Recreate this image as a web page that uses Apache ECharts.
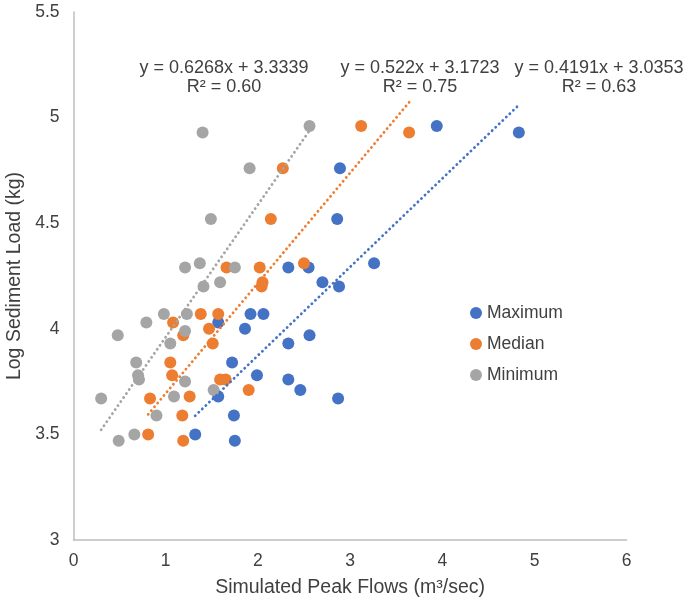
<!DOCTYPE html>
<html>
<head>
<meta charset="utf-8">
<script src="https://cdn.jsdelivr.net/npm/echarts@6/dist/echarts.min.js"></script>
<style>html,body{margin:0;padding:0;background:#fff;}#c{width:686px;height:600px;}</style>
</head>
<body>
<div id="c"></div>
<script>
// Series data (x = Simulated Peak Flows, y = Log Sediment Load)
const seriesNames = ['Maximum', 'Median', 'Minimum'];
const seriesColors = ['#4472C4', '#ED7D31', '#A5A5A5'];

const maxX = [4.83, 3.94, 2.89, 2.86, 3.26, 2.55, 2.33, 2.70, 2.88, 1.92, 2.06, 1.57, 1.86, 2.56, 2.33, 1.72, 1.99, 2.33, 2.46, 1.57, 2.87, 1.74, 1.32, 1.75];
const maxY = [4.93, 4.96, 4.76, 4.52, 4.31, 4.29, 4.29, 4.22, 4.20, 4.07, 4.07, 4.03, 4.00, 3.97, 3.93, 3.84, 3.78, 3.76, 3.71, 3.68, 3.67, 3.59, 3.50, 3.47];

const medX = [3.12, 3.64, 2.27, 2.14, 2.50, 2.02, 2.05, 2.04, 1.66, 1.38, 1.57, 1.08, 1.47, 1.19, 1.51, 1.05, 1.07, 1.59, 1.65, 1.90, 0.83, 1.26, 1.18, 0.81, 1.19];
const medY = [4.96, 4.93, 4.76, 4.52, 4.31, 4.29, 4.22, 4.20, 4.29, 4.07, 4.07, 4.03, 4.00, 3.97, 3.93, 3.84, 3.78, 3.76, 3.76, 3.71, 3.67, 3.68, 3.59, 3.50, 3.47];

const minX = [2.56, 1.40, 1.91, 1.49, 1.37, 1.21, 1.75, 1.59, 1.41, 0.98, 1.23, 0.79, 1.21, 0.48, 1.05, 0.68, 0.70, 0.71, 1.21, 1.52, 1.09, 0.30, 0.90, 0.66, 0.49];
const minY = [4.96, 4.93, 4.76, 4.52, 4.31, 4.29, 4.29, 4.22, 4.20, 4.07, 4.07, 4.03, 3.99, 3.97, 3.93, 3.84, 3.78, 3.76, 3.75, 3.71, 3.68, 3.67, 3.59, 3.50, 3.47];

// Linear trendlines (from the chart's equations)
const trendSlopes = [0.4191, 0.522, 0.6268];
const trendIntercepts = [3.0353, 3.1723, 3.3339];
const trendLabels = ['y = 0.4191x + 3.0353', 'y = 0.522x + 3.1723', 'y = 0.6268x + 3.3339'];
const r2Labels = ['R\u00B2 = 0.63', 'R\u00B2 = 0.75', 'R\u00B2 = 0.60'];

// Axis ticks
const xTicks = [0, 1, 2, 3, 4, 5, 6];
const yTicks = [3, 3.5, 4, 4.5, 5, 5.5];

const xs = [maxX, medX, minX];
const ys = [maxY, medY, minY];

const FONT = '"Liberation Sans", Arial, sans-serif';
const TXT = '#404040';

const scatterSeries = seriesNames.map((name, i) => ({
  name: name,
  type: 'scatter',
  symbol: 'circle',
  symbolSize: 12,
  itemStyle: { color: seriesColors[i], opacity: 1 },
  z: 2 + i,
  data: xs[i].map((x, k) => [x, ys[i][k]])
}));

const trendSeries = seriesNames.map((name, i) => {
  const lo = Math.min.apply(null, xs[i]);
  const hi = Math.max.apply(null, xs[i]);
  return {
    name: name + ' trend',
    type: 'line',
    symbol: 'none',
    silent: true,
    z: 10,
    lineStyle: { color: seriesColors[i], width: 2.8, type: [0.1, 4.8], cap: 'round' },
    data: [[lo, trendIntercepts[i] + trendSlopes[i] * lo], [hi, trendIntercepts[i] + trendSlopes[i] * hi]]
  };
});

const eqCenters = [599, 420, 224];
const graphics = [];
for (let i = 0; i < 3; i++) {
  graphics.push({ type: 'text', x: eqCenters[i], y: 68,
    style: { text: trendLabels[i], x: 0, y: 0, textAlign: 'center', textVerticalAlign: 'middle', font: '18px ' + FONT, fill: TXT } });
  graphics.push({ type: 'text', x: eqCenters[i], y: 87,
    style: { text: r2Labels[i], x: 0, y: 0, textAlign: 'center', textVerticalAlign: 'middle', font: '18px ' + FONT, fill: TXT } });
}

const chart = echarts.init(document.getElementById('c'), null, { renderer: 'canvas' });
chart.setOption({
  animation: false,
  backgroundColor: '#ffffff',
  grid: { left: 73.5, right: 59.3, top: 12, bottom: 60, outerBoundsMode: 'none' },
  xAxis: {
    type: 'value', min: xTicks[0], max: xTicks[xTicks.length - 1], interval: 1,
    name: 'Simulated Peak Flows (m\u00B3/sec)', nameLocation: 'middle', nameGap: 38,
    nameTextStyle: { fontFamily: FONT, fontSize: 19.5, color: TXT },
    axisLine: { show: true, lineStyle: { color: '#BFBFBF', width: 1.5 } },
    axisTick: { show: false },
    splitLine: { show: false },
    axisLabel: { fontFamily: FONT, fontSize: 17.5, color: TXT, margin: 12 }
  },
  yAxis: {
    type: 'value', min: yTicks[0], max: yTicks[yTicks.length - 1], interval: 0.5,
    name: 'Log Sediment Load (kg)', nameLocation: 'middle', nameGap: 44,
    nameTextStyle: { fontFamily: FONT, fontSize: 19.5, color: TXT },
    axisLine: { show: true, lineStyle: { color: '#BFBFBF', width: 1.5 } },
    axisTick: { show: false },
    splitLine: { show: false },
    axisLabel: { fontFamily: FONT, fontSize: 17.5, color: TXT, margin: 14 }
  },
  legend: {
    data: seriesNames,
    orient: 'vertical', left: 465, top: 299,
    icon: 'circle', itemWidth: 12, itemHeight: 12, itemGap: 13,
    textStyle: { fontFamily: FONT, fontSize: 17.5, color: TXT, padding: [0, 0, 0, 0] }
  },
  graphic: graphics,
  series: scatterSeries.concat(trendSeries)
});
</script>
</body>
</html>
